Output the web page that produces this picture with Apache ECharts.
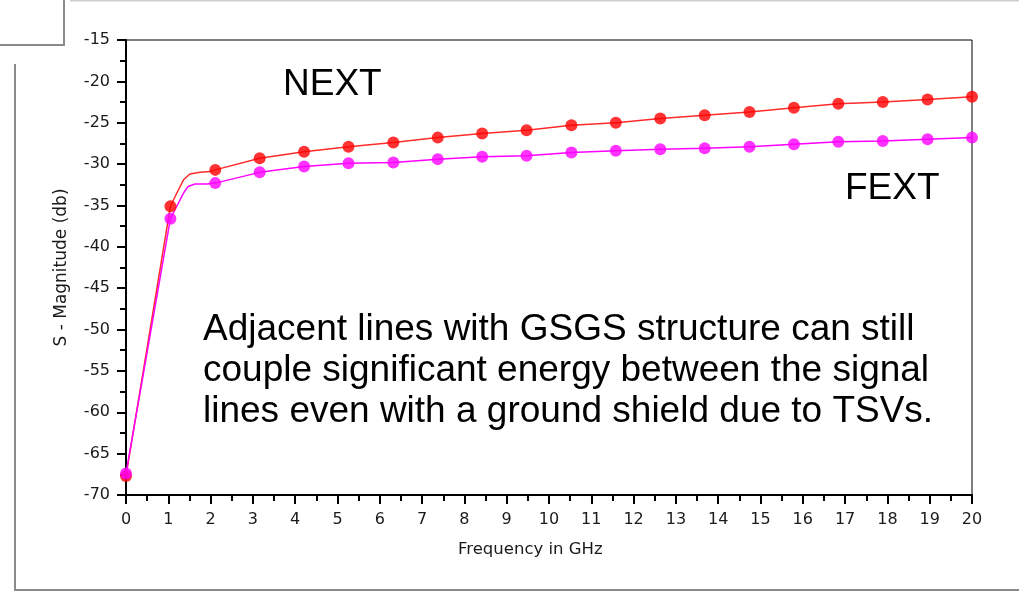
<!DOCTYPE html>
<html>
<head>
<meta charset="utf-8">
<script src="https://cdn.jsdelivr.net/npm/echarts@6/dist/echarts.min.js"></script>
<style>
html,body{margin:0;padding:0;background:#fff;}
#chart{width:1019px;height:592px;}
</style>
</head>
<body>
<div id="chart"></div>
<script>
// Marker frequencies (GHz)
const freq = [0, 1.05, 2.11, 3.16, 4.21, 5.26, 6.32, 7.37, 8.42, 9.47, 10.53, 11.58, 12.63, 13.68, 14.74, 15.79, 16.84, 17.89, 18.95, 20];
// NEXT (red) marker values, dB
const nextVals = [-67.7, -35.1, -30.7, -29.3, -28.5, -27.9, -27.4, -26.8, -26.3, -25.9, -25.3, -25.0, -24.5, -24.1, -23.7, -23.2, -22.7, -22.5, -22.2, -21.85];
// FEXT (magenta) marker values, dB
const fextVals = [-67.4, -36.6, -32.3, -31.0, -30.3, -29.9, -29.8, -29.4, -29.1, -29.0, -28.6, -28.4, -28.2, -28.1, -27.9, -27.6, -27.3, -27.2, -27.0, -26.8];
// Extra curve points around the knee
const nextKneeFreq = [1.24, 1.36, 1.51, 1.75, 1.99];
const nextKneeVals = [-33.1, -31.9, -31.2, -31.0, -30.9];
const fextKneeFreq = [1.24, 1.36, 1.47, 1.63, 1.91];
const fextKneeVals = [-34.7, -33.5, -32.7, -32.4, -32.4];

const xTicks = {min: 0, max: 20, step: 1};
const yTicks = {min: -70, max: -15, step: 5};

function pairs(xs, ys) { return xs.map((x, i) => [x, ys[i]]); }
function curve(xs, ys, kx, ky) {
  return pairs(xs, ys).concat(pairs(kx, ky)).sort((a, b) => a[0] - b[0]);
}

const chart = echarts.init(document.getElementById('chart'), null, {renderer: 'canvas'});
const labelFont = {color: '#1a1a1a', fontSize: 16, fontFamily: 'DejaVu Sans'};
const bigFont = 'Liberation Sans';

chart.setOption({
  animation: false,
  backgroundColor: '#ffffff',
  grid: {left: 126, top: 40, right: 47, bottom: 97, show: true, borderColor: '#000', borderWidth: 1, backgroundColor: 'transparent'},
  xAxis: {
    type: 'value', min: xTicks.min, max: xTicks.max, interval: xTicks.step,
    axisLine: {show: true, onZero: false, lineStyle: {color: '#000', width: 2}},
    axisTick: {show: true, inside: false, length: 9, lineStyle: {color: '#000', width: 2}},
    minorTick: {show: true, splitNumber: 2, length: 6, lineStyle: {color: '#000', width: 2}},
    splitLine: {show: false},
    axisLabel: Object.assign({margin: 17}, labelFont)
  },
  yAxis: {
    type: 'value', min: yTicks.min, max: yTicks.max, interval: yTicks.step,
    name: 'S - Magnitude (db)', nameLocation: 'middle', nameGap: 56,
    nameTextStyle: {color: '#1a1a1a', fontSize: 17, fontFamily: 'DejaVu Sans'},
    axisLine: {show: true, onZero: false, lineStyle: {color: '#000', width: 2}},
    axisTick: {show: true, inside: false, length: 9, lineStyle: {color: '#000', width: 2}},
    minorTick: {show: true, splitNumber: 2, length: 6, lineStyle: {color: '#000', width: 2}},
    splitLine: {show: false},
    axisLabel: Object.assign({margin: 16}, labelFont)
  },
  series: [
    {type: 'line', name: 'NEXT curve', data: curve(freq, nextVals, nextKneeFreq, nextKneeVals), symbol: 'none',
     lineStyle: {color: '#ff2a2a', width: 1.5}, z: 2},
    {type: 'line', name: 'FEXT curve', data: curve(freq, fextVals, fextKneeFreq, fextKneeVals), symbol: 'none',
     lineStyle: {color: '#ff00ff', width: 1.5}, z: 3},
    {type: 'scatter', name: 'NEXT', data: pairs(freq, nextVals), symbol: 'circle', symbolSize: 12,
     itemStyle: {color: '#ff0000'}, z: 4},
    {type: 'scatter', name: 'FEXT', data: pairs(freq, fextVals), symbol: 'circle', symbolSize: 12,
     itemStyle: {color: '#ff00ff'}, z: 5}
  ],
  graphic: [
    {type: 'polyline', shape: {points: [[0, 45], [64, 45], [64, 0]]}, style: {stroke: '#8a8a8a', lineWidth: 2, fill: null}},
    {type: 'line', shape: {x1: 70, y1: 0.5, x2: 1019, y2: 0.5}, style: {stroke: '#cfcfcf', lineWidth: 2}},
    {type: 'polyline', shape: {points: [[15, 64], [15, 590], [1019, 590]]}, style: {stroke: '#8a8a8a', lineWidth: 2, fill: null}},
    {type: 'text', left: 458, top: 541, style: {text: 'Frequency in GHz', fill: '#1a1a1a', font: '16.5px "DejaVu Sans"'}},
    {type: 'text', left: 283, top: 66, style: {text: 'NEXT', fill: '#000', font: '37px "' + bigFont + '"'}},
    {type: 'text', left: 845, top: 170, style: {text: 'FEXT', fill: '#000', font: '37px "' + bigFont + '"'}},
    {type: 'text', left: 203, top: 309, style: {
      text: 'Adjacent lines with GSGS structure can still\ncouple significant energy between the signal\nlines even with a ground shield due to TSVs.',
      fill: '#000', font: '37px "' + bigFont + '"', lineHeight: 41}}
  ]
});
</script>
</body>
</html>
